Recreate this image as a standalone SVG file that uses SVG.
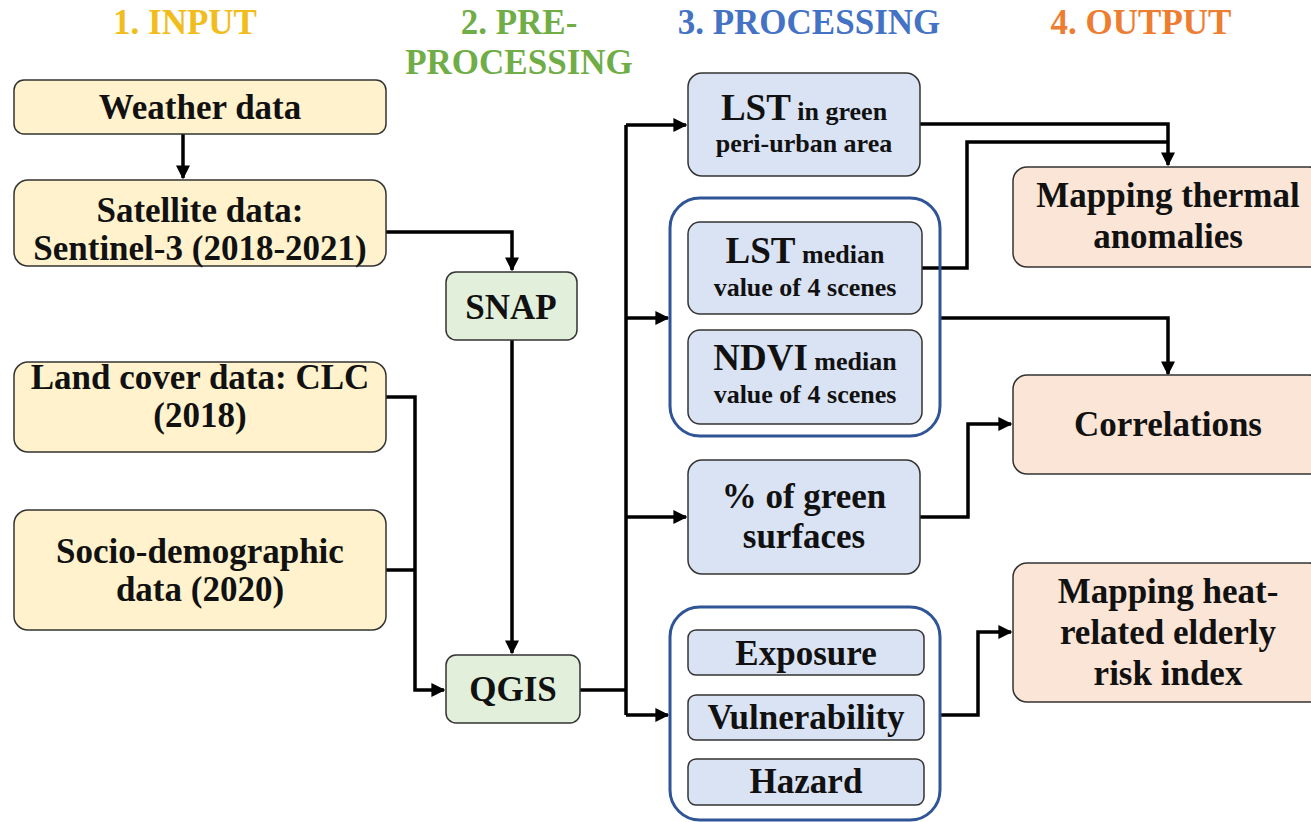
<svg xmlns="http://www.w3.org/2000/svg" width="1311" height="822" viewBox="0 0 1311 822">
<style>
  text { font-family: "Liberation Serif", "DejaVu Serif", serif; font-weight: bold; text-anchor: middle; fill: #111; }
  .hdr { font-size: 35px; }
  .t { font-size: 35px; }
  .b { font-size: 37px; }
  .s { font-size: 26px; }
  .in { fill: #fff2cc; stroke: #333; stroke-width: 1.5; }
  .pre { fill: #e2efda; stroke: #333; stroke-width: 1.5; }
  .pr { fill: #dae3f3; stroke: #333; stroke-width: 1.5; }
  .out { fill: #fbe5d6; stroke: #333; stroke-width: 1.5; }
  .grp { fill: none; stroke: #2f5597; stroke-width: 3; }
  .c { fill: none; stroke: #000; stroke-width: 3.5; }
</style>
<defs>
  <marker id="ah" viewBox="0 0 10 10" refX="9" refY="5" markerWidth="4" markerHeight="4" orient="auto" markerUnits="strokeWidth">
    <path d="M0,0 L10,5 L0,10 z" fill="#000"/>
  </marker>
</defs>

<g id="headers">
  <text class="hdr" x="185" y="34" style="fill:#f0bd1c">1. INPUT</text>
  <text class="hdr" x="519" y="34" style="fill:#70ad47">2. PRE-</text>
  <text class="hdr" x="519" y="74" style="fill:#70ad47">PROCESSING</text>
  <text class="hdr" x="809" y="34" style="fill:#4472c4">3. PROCESSING</text>
  <text class="hdr" x="1141" y="34" style="fill:#ed7d31">4. OUTPUT</text>
</g>

<g id="connectors">
  <path class="c" d="M183,134 V178" marker-end="url(#ah)"/>
  <path class="c" d="M386,232 H512 V270" marker-end="url(#ah)"/>
  <path class="c" d="M512,340 V653" marker-end="url(#ah)"/>
  <path class="c" d="M386,397 H415 V690 H444" marker-end="url(#ah)"/>
  <path class="c" d="M386,570 H415"/>
  <path class="c" d="M580,690 H626"/>
  <path class="c" d="M626,125 V715"/>
  <path class="c" d="M626,125 H686" marker-end="url(#ah)"/>
  <path class="c" d="M626,318 H668" marker-end="url(#ah)"/>
  <path class="c" d="M626,517 H686" marker-end="url(#ah)"/>
  <path class="c" d="M626,715 H668" marker-end="url(#ah)"/>
  <path class="c" d="M920,124 H1168 V165" marker-end="url(#ah)"/>
  <path class="c" d="M922,268 H967 V142 H1168"/>
  <path class="c" d="M940,318 H1168 V374" marker-end="url(#ah)"/>
  <path class="c" d="M920,517 H968 V424 H1011" marker-end="url(#ah)"/>
  <path class="c" d="M940,715 H978 V632 H1011" marker-end="url(#ah)"/>
</g>

<g id="weather">
  <rect class="in" x="14" y="80" width="372" height="54" rx="10"/>
  <text class="t" x="200" y="119">Weather data</text>
</g>
<g id="satellite">
  <rect class="in" x="14" y="180" width="372" height="86" rx="14"/>
  <text class="t" x="200" y="222">Satellite data:</text>
  <text class="t" x="200" y="260">Sentinel-3 (2018-2021)</text>
</g>
<g id="landcover">
  <rect class="in" x="14" y="362" width="372" height="90" rx="14"/>
  <text class="t" x="200" y="389">Land cover data: CLC</text>
  <text class="t" x="200" y="427">(2018)</text>
</g>
<g id="socio">
  <rect class="in" x="14" y="510" width="372" height="120" rx="14"/>
  <text class="t" x="200" y="563">Socio-demographic</text>
  <text class="t" x="200" y="601">data (2020)</text>
</g>
<g id="snap">
  <rect class="pre" x="446" y="272" width="131" height="68" rx="10"/>
  <text class="t" x="511" y="319">SNAP</text>
</g>
<g id="qgis">
  <rect class="pre" x="446" y="655" width="134" height="68" rx="10"/>
  <text class="t" x="513" y="701">QGIS</text>
</g>

<g id="lst-green">
  <rect class="pr" x="688" y="73" width="232" height="103" rx="14"/>
  <text x="804" y="120"><tspan class="b">LST</tspan><tspan class="s"> in green</tspan></text>
  <text class="s" x="804" y="152">peri-urban area</text>
</g>
<g id="group-median">
  <rect class="grp" x="670" y="198" width="270" height="238" rx="30"/>
</g>
<g id="lst-median">
  <rect class="pr" x="688" y="222" width="234" height="92" rx="12"/>
  <text x="805" y="263"><tspan class="b">LST</tspan><tspan class="s"> median</tspan></text>
  <text class="s" x="805" y="296">value of 4 scenes</text>
</g>
<g id="ndvi-median">
  <rect class="pr" x="688" y="330" width="234" height="94" rx="12"/>
  <text x="805" y="370"><tspan class="b">NDVI</tspan><tspan class="s"> median</tspan></text>
  <text class="s" x="805" y="403">value of 4 scenes</text>
</g>
<g id="green-surfaces">
  <rect class="pr" x="688" y="460" width="232" height="114" rx="14"/>
  <text class="t" x="804" y="508">% of green</text>
  <text class="t" x="804" y="548">surfaces</text>
</g>
<g id="group-risk">
  <rect class="grp" x="670" y="607" width="270" height="213" rx="30"/>
</g>
<g id="exposure">
  <rect class="pr" x="688" y="630" width="236" height="45" rx="8"/>
  <text class="t" x="806" y="665">Exposure</text>
</g>
<g id="vulnerability">
  <rect class="pr" x="688" y="695" width="236" height="45" rx="8"/>
  <text class="t" x="806" y="729">Vulnerability</text>
</g>
<g id="hazard">
  <rect class="pr" x="688" y="759" width="236" height="46" rx="8"/>
  <text class="t" x="806" y="793">Hazard</text>
</g>

<g id="thermal">
  <rect class="out" x="1013" y="167" width="310" height="100" rx="14"/>
  <text class="t" x="1168" y="207">Mapping thermal</text>
  <text class="t" x="1168" y="248">anomalies</text>
</g>
<g id="correlations">
  <rect class="out" x="1013" y="375" width="310" height="99" rx="14"/>
  <text class="t" x="1168" y="436">Correlations</text>
</g>
<g id="risk">
  <rect class="out" x="1013" y="563" width="310" height="139" rx="14"/>
  <text class="t" x="1168" y="603">Mapping heat-</text>
  <text class="t" x="1168" y="644">related elderly</text>
  <text class="t" x="1168" y="685">risk index</text>
</g>
</svg>
